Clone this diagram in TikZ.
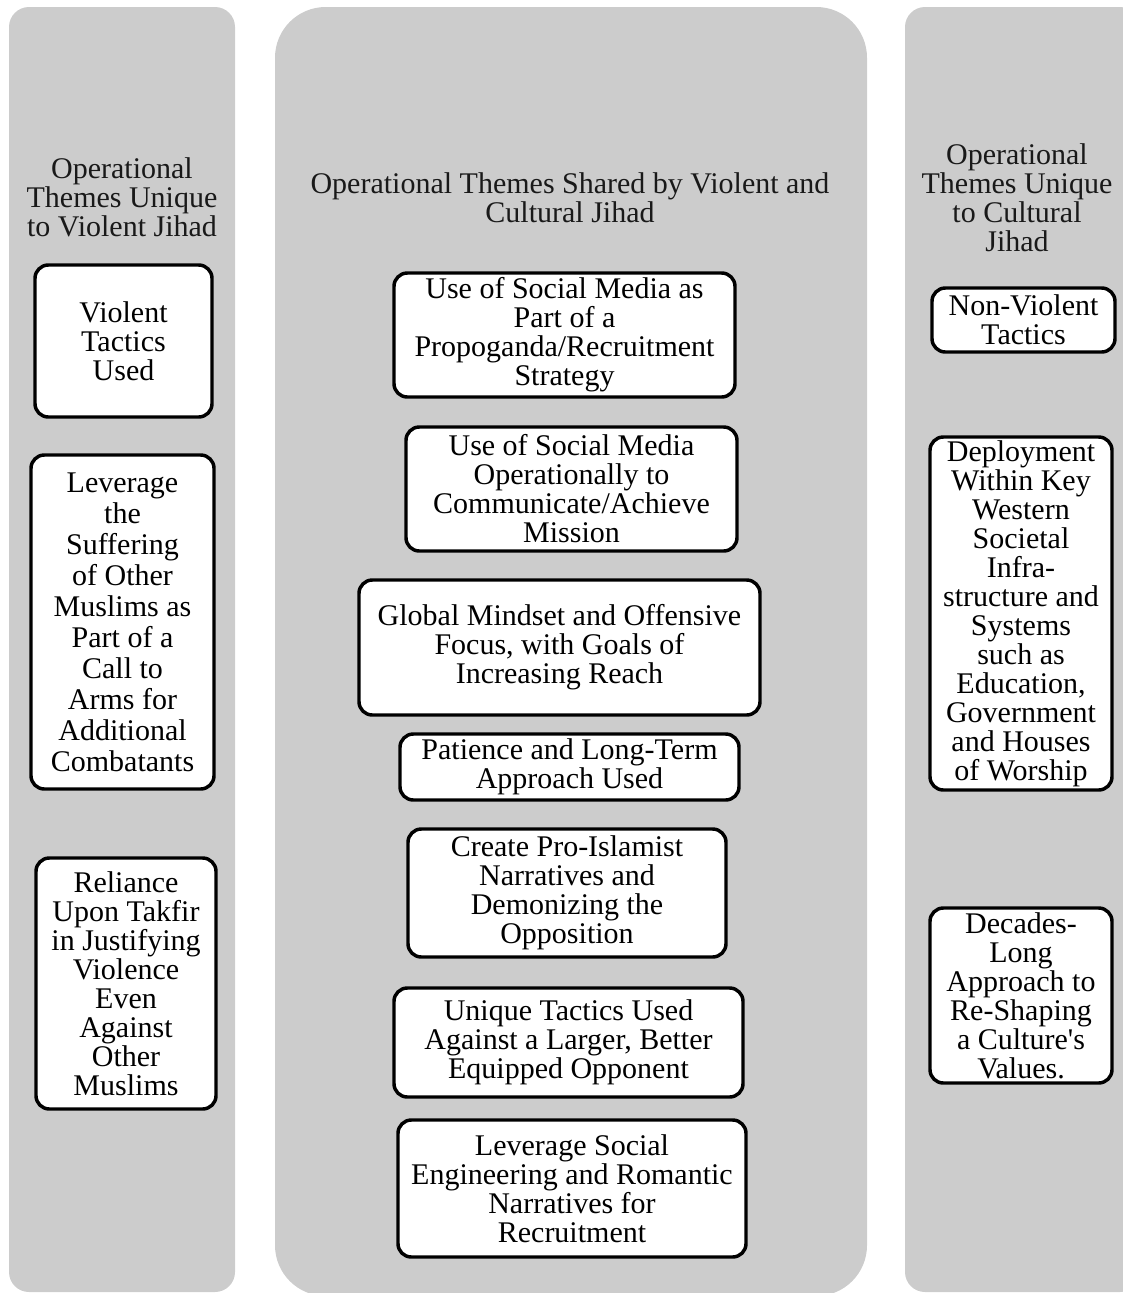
\documentclass[tikz,border=0pt]{standalone}
\usepackage{fontspec}
\setmainfont{Liberation Serif}

\begin{document}
\begin{tikzpicture}[x=0.75pt, y=-0.75pt,
        lane/.style={fill=black!20},
        heading/.style={align=center, text=black!90, font=\fontsize{22.5}{21.75}\selectfont},
        themebox/.style={draw, line width=2.6pt, rounded corners=10pt, fill=white, align=center, inner sep=0pt, font=\fontsize{22.5}{21.75}\selectfont},
        boxsize/.style 2 args={minimum width=#1*0.75pt, minimum height=#2*0.75pt}]
        \clip (0,0) rectangle (1123,1293);

        % the three columns
        \fill[lane, rounded corners=15pt] (9,7) rectangle (235,1292);
        \fill[lane, rounded corners=38pt] (275,7) rectangle (867,1296);
        \fill[lane, rounded corners=15pt] (905,7) rectangle (1140,1292);

        % headings
        \node[heading] (hv) at (122,197) {Operational\\Themes Unique\\to Violent Jihad};
        \node[heading] (hs) at (570,197.5) {Operational Themes Shared by Violent and\\Cultural Jihad};
        \node[heading] (hc) at (1017,198) {Operational\\Themes Unique\\to Cultural\\Jihad};

        % violent jihad
        \node[themebox, boxsize={177}{152}] (v1) at (123.5,341) {Violent\\Tactics\\Used};
        \node[themebox, boxsize={183}{334}, font=\fontsize{22.5}{23.25}\selectfont] (v2) at (122.5,622) {Leverage\\the\\Suffering\\of Other\\Muslims as\\Part of a\\Call to\\Arms for\\Additional\\Combatants};
        \node[themebox, boxsize={180}{251}] (v3) at (126,983.5) {Reliance\\Upon Takfir\\in Justifying\\Violence\\Even\\Against\\Other\\Muslims};

        % shared
        \node[themebox, boxsize={341}{124}] (s1) at (564.5,335) {Use of Social Media as\\Part of a\\Propoganda/Recruitment\\Strategy};
        \node[themebox, boxsize={331}{124}] (s2) at (571.5,489) {Use of Social Media\\Operationally to\\Communicate/Achieve\\Mission};
        \node[themebox, boxsize={401}{135}] (s3) at (559.5,647.5) {Global Mindset and Offensive\\Focus, with Goals of\\Increasing Reach};
        \node[themebox, boxsize={339}{66}] (s4) at (569.5,767) {Patience and Long-Term\\Approach Used};
        \node[themebox, boxsize={318}{128}] (s5) at (567,893) {Create Pro-Islamist\\Narratives and\\Demonizing the\\Opposition};
        \node[themebox, boxsize={349}{109}] (s6) at (568.5,1042.5) {Unique Tactics Used\\Against a Larger, Better\\Equipped Opponent};
        \node[themebox, boxsize={348}{137}] (s7) at (572,1188.5) {Leverage Social\\Engineering and Romantic\\Narratives for\\Recruitment};

        % cultural jihad
        \node[themebox, boxsize={183}{64}] (c1) at (1023.5,320) {Non-Violent\\Tactics};
        \node[themebox, boxsize={182}{353}] (c2) at (1021,613.5) {Deployment\\Within Key\\Western\\Societal\\Infra-\\structure and\\Systems\\such as\\Education,\\Government\\and Houses\\of Worship};
        \node[themebox, boxsize={182}{175}] (c3) at (1021,995.5) {Decades-\\Long\\Approach to\\Re-Shaping\\a Culture\textquotesingle s\\Values.};
\end{tikzpicture}
\end{document}
